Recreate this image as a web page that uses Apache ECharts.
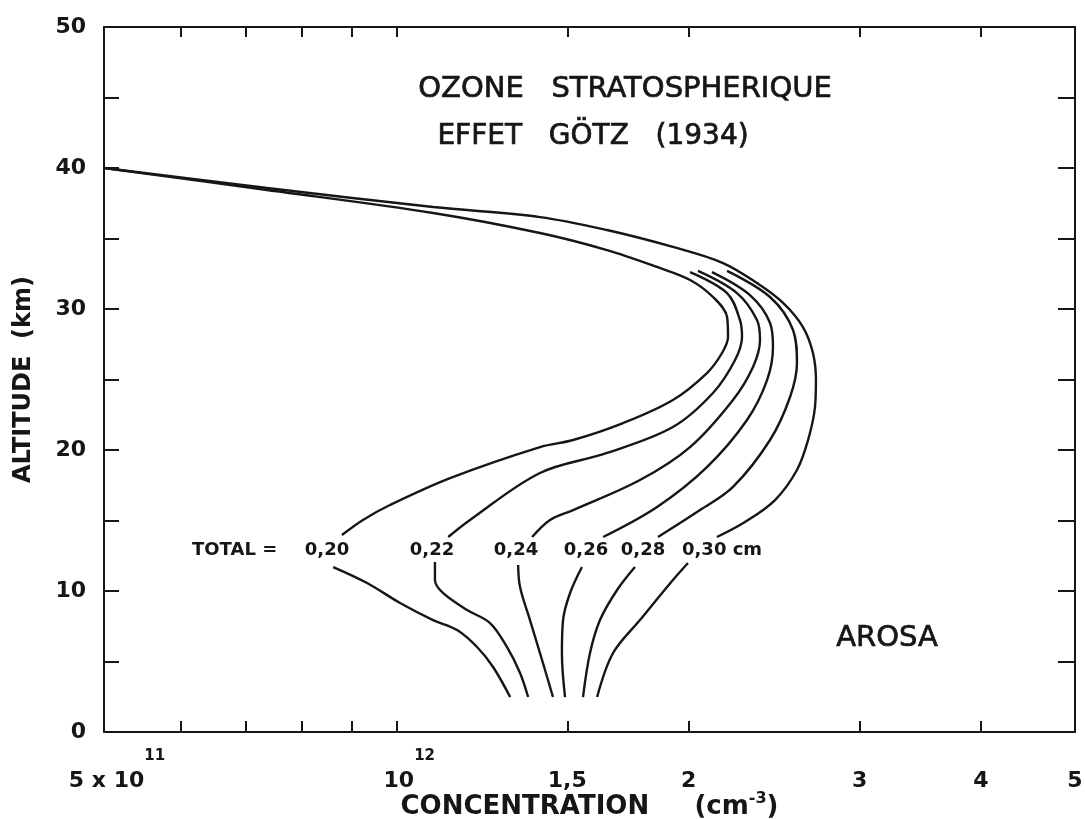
<!DOCTYPE html>
<html><head><meta charset="utf-8">
<script src="https://cdn.jsdelivr.net/npm/echarts@6/dist/echarts.min.js"></script>
<style>html,body{margin:0;padding:0;background:#fff}#c{width:1085px;height:819px}</style>
</head><body><div id="c"></div>
<script>
// concentration in units of 1e12 cm^-3, altitude in km
const xTickValues = [0.6, 0.7, 0.8, 0.9, 1, 1.5, 2, 3, 4];
const xLabelValues = [0.5, 1, 1.5, 2, 3, 4, 5];
const xLabelTexts = ['{b|5 x 10}{s|11}', '{b|10}{s|12}', '{p|1,5}', '{p|2}', '{p|3}', '{p|4}', '{p|5}'];
const totalLabels = ['0,20', '0,22', '0,24', '0,26', '0,28', '0,30 cm'];

const c020 = [[0.5,40.0],[0.736,38.44],[1.091,36.81],[1.406,35.39],[1.648,34.18],[1.856,32.98],[2.007,32.06],[2.119,30.85],[2.191,29.43],[2.196,28.01],[2.165,26.88],[2.089,25.46],[1.927,23.55],[1.712,21.91],[1.521,20.71],[1.406,20.21],[1.136,18.01],[0.985,16.10],[0.924,15.04],[0.879,13.97],null,[0.861,11.70],[0.933,10.57],[1.009,9.15],[1.091,7.94],[1.155,7.23],[1.211,6.03],[1.258,4.61],[1.310,2.48]];
const c022 = [[2.007,32.62],[2.191,31.13],[2.259,29.22],[2.270,28.01],[2.233,26.38],[2.119,24.04],[1.927,21.63],[1.648,19.79],[1.406,18.37],[1.191,15.04],[1.131,13.83],null,[1.096,12.06],[1.096,10.78],[1.117,9.86],[1.183,8.65],[1.249,7.73],[1.300,6.03],[1.341,4.18],[1.367,2.48]];
const c024 = [[2.045,32.70],[2.243,31.13],[2.352,29.22],[2.369,27.80],[2.330,25.89],[2.222,23.55],[2.007,20.21],[1.782,17.87],[1.521,15.74],[1.440,15.04],[1.380,13.83],null,[1.335,11.84],[1.341,10.28],[1.373,7.94],[1.406,5.60],[1.450,2.48]];
const c026 = [[2.114,32.62],[2.313,30.99],[2.426,29.01],[2.443,27.30],[2.409,24.96],[2.297,22.13],[2.089,18.79],[1.856,15.96],[1.633,13.83],null,[1.553,11.70],[1.510,9.86],[1.485,7.94],[1.481,5.60],[1.492,2.48]];
const c028 = [[2.191,32.70],[2.426,30.85],[2.562,28.51],[2.586,26.17],[2.544,23.76],[2.426,20.71],[2.222,17.38],[2.055,15.74],[1.860,13.83],null,[1.761,11.70],[1.688,10.07],[1.621,7.94],[1.583,5.60],[1.557,2.48]];
const c030 = [[0.5,40.0],[0.736,38.58],[1.091,37.23],[1.406,36.52],[1.648,35.60],[1.927,34.40],[2.170,33.26],[2.352,31.84],[2.502,30.43],[2.623,28.72],[2.686,26.88],[2.705,24.96],[2.699,23.05],[2.655,20.71],[2.586,18.58],[2.455,16.45],[2.286,14.89],[2.139,13.83],null,[1.997,11.99],[1.927,10.78],[1.782,7.94],[1.672,5.60],[1.610,2.48]];
const curves = [c020, c022, c024, c026, c028, c030];

const INK = '#161616';
const FF = 'DejaVu Sans';

function xLabel(v) {
  for (let i = 0; i < xLabelValues.length; i++) {
    if (Math.abs(v - xLabelValues[i]) < 1e-6 * xLabelValues[i] + 1e-9) return xLabelTexts[i];
  }
  return '';
}

const chart = echarts.init(document.getElementById('c'), null, {renderer: 'canvas'});
const tickStyle = {color: INK, width: 2};
const richX = {
  b: {fontFamily: FF, fontWeight: 'bold', fontSize: 22, lineHeight: 22, verticalAlign: 'bottom', color: INK, padding: [0, 0, 0, 26]},
  s: {fontFamily: FF, fontWeight: 'bold', fontSize: 15, lineHeight: 15, verticalAlign: 'bottom', color: INK, padding: [0, 0, 28, 0]},
  p: {fontFamily: FF, fontWeight: 'bold', fontSize: 22, lineHeight: 22, verticalAlign: 'bottom', color: INK, padding: [21, 0, 0, 0]}
};

const labelX = [327, 432, 516, 586, 643, 722];
const titleStyle = {fill: INK, stroke: INK, lineWidth: 0.7, align: 'center', verticalAlign: 'middle'};
const graphics = [
  {type: 'text', x: 625, y: 89, style: Object.assign({text: 'OZONE   STRATOSPHERIQUE', font: 'normal 29px "DejaVu Sans"'}, titleStyle)},
  {type: 'text', x: 593, y: 137, style: Object.assign({text: 'EFFET   GÖTZ   (1934)', font: 'normal 28px "DejaVu Sans"'}, titleStyle)},
  {type: 'text', x: 887, y: 638, style: Object.assign({text: 'AROSA', font: 'normal 29px "DejaVu Sans"'}, titleStyle)},
  {type: 'text', x: 192, y: 550, style: {text: 'TOTAL =', font: 'bold 18px "DejaVu Sans"', fill: INK, align: 'left', verticalAlign: 'middle'}}
];
totalLabels.forEach((t, i) => {
  graphics.push({type: 'text', x: i === 5 ? 682 : labelX[i], y: 550,
    style: {text: t, font: 'bold 18px "DejaVu Sans"', fill: INK, align: i === 5 ? 'left' : 'center', verticalAlign: 'middle'}});
});

chart.setOption({
  animation: false,
  backgroundColor: '#fff',
  grid: {left: 104, right: 10, top: 27, bottom: 87, containLabel: false, outerBoundsMode: 'none'},
  xAxis: [
    {type: 'log', logBase: 10, min: 0.5, max: 5, position: 'bottom',
     axisLine: {show: true, onZero: false, lineStyle: {color: INK, width: 2}},
     axisTick: {show: true, inside: true, length: 11, customValues: xTickValues, lineStyle: tickStyle},
     minorTick: {show: false}, splitLine: {show: false},
     axisLabel: {show: true, customValues: xLabelValues, formatter: xLabel, margin: 38, rich: richX},
     name: '{n|CONCENTRATION     (cm}{s|-3}{n|)}', nameLocation: 'middle', nameGap: 62, nameMoveOverlap: false,
     nameTextStyle: {rich: {
       n: {fontFamily: FF, fontWeight: 'bold', fontSize: 26, lineHeight: 26, verticalAlign: 'bottom', color: INK},
       s: {fontFamily: FF, fontWeight: 'bold', fontSize: 16, lineHeight: 16, verticalAlign: 'bottom', color: INK, padding: [0, 0, 13, 0]}
     }}},
    {type: 'log', logBase: 10, min: 0.5, max: 5, position: 'top',
     axisLine: {show: true, onZero: false, lineStyle: {color: INK, width: 2}},
     axisTick: {show: true, inside: true, length: 10, customValues: xTickValues, lineStyle: tickStyle},
     axisLabel: {show: false}, splitLine: {show: false}}
  ],
  yAxis: [
    {type: 'value', min: 0, max: 50, interval: 5, position: 'left',
     axisLine: {show: true, onZero: false, lineStyle: {color: INK, width: 2}},
     axisTick: {show: true, inside: true, length: 15, lineStyle: tickStyle},
     splitLine: {show: false},
     axisLabel: {margin: 18, fontFamily: FF, fontWeight: 'bold', fontSize: 22, color: INK,
       formatter: v => (v % 10 === 0 ? String(v) : '')},
     name: 'ALTITUDE  (km)', nameLocation: 'middle', nameGap: 68, nameMoveOverlap: false,
     nameTextStyle: {fontFamily: FF, fontWeight: 'bold', fontSize: 24, color: INK}},
    {type: 'value', min: 0, max: 50, interval: 5, position: 'right',
     axisLine: {show: true, onZero: false, lineStyle: {color: INK, width: 2}},
     axisTick: {show: true, inside: true, length: 17, lineStyle: tickStyle},
     axisLabel: {show: false}, splitLine: {show: false}}
  ],
  series: curves.map((d, i) => ({
    type: 'line', name: totalLabels[i], data: d, xAxisIndex: 0, yAxisIndex: 0,
    showSymbol: false, smooth: 0.35, connectNulls: false,
    lineStyle: {color: INK, width: 2.4}, silent: true
  })),
  graphic: graphics
});
</script></body></html>
